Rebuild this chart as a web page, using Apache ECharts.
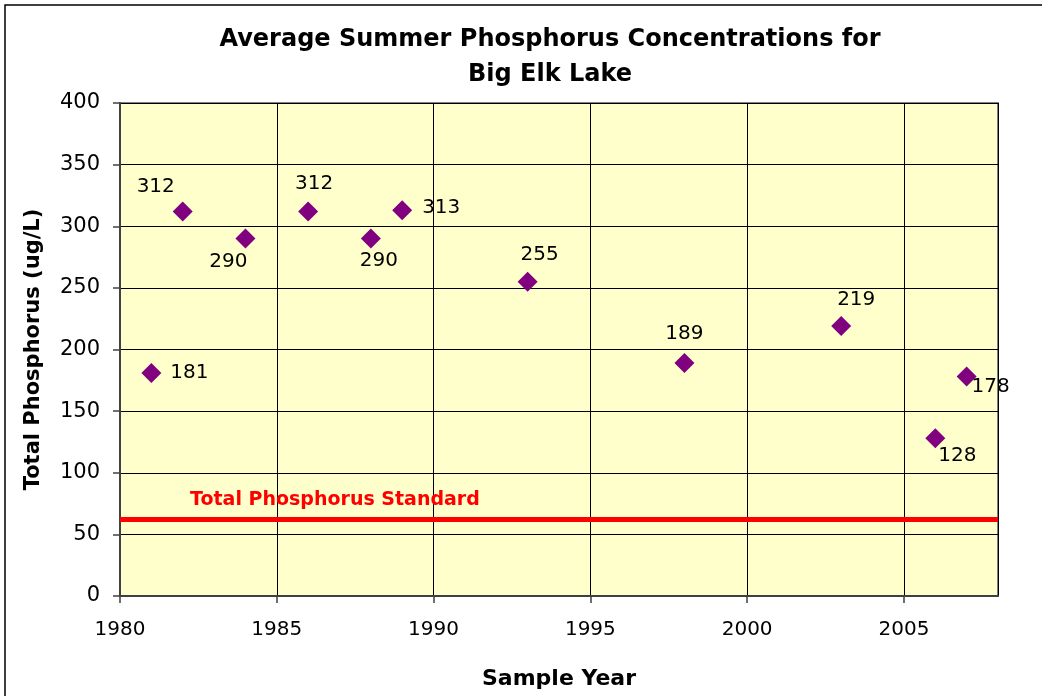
<!DOCTYPE html>
<html>
  <head>
    <meta http-equiv="Content-Type" content="text/html; charset=UTF-8">
    <title>Big Elk Lake</title>
    <style type="text/css">
      * {margin: 0; padding: 0;}
      body {background: #fff;}
    </style>
  </head>
  <body>
    <div id="chart" style="width:1042px;height:696px"></div>

    <script src="https://cdn.jsdelivr.net/npm/echarts@6/dist/echarts.min.js" charset="utf-8"></script>
    <script type="text/javascript">
      var years = [1981, 1982, 1984, 1986, 1988, 1989, 1993, 1998, 2003, 2006, 2007];
      var phosphorus = [181, 312, 290, 312, 290, 313, 255, 189, 219, 128, 178];
      var standard = 62;
      var standardName = 'Total Phosphorus Standard';
      // label offsets (px) from each diamond
      var labelOffsets = [[38, 0], [-27, -25], [-17, 23], [6, -28], [8, 22], [39, -2],
                          [12, -27], [0, -29], [15, -26], [22, 18], [24, 10]];

      var points = [];
      for (var i = 0; i < years.length; i++) {
        points.push({
          value: [years[i], phosphorus[i]],
          label: {offset: labelOffsets[i]}
        });
      }

      var font = '"DejaVu Sans", sans-serif';
      var chart = echarts.init(document.getElementById('chart'));
      var option = {
        animation: false,
        backgroundColor: '#fff',
        textStyle: {fontFamily: font},
        title: {
          text: 'Average Summer Phosphorus Concentrations for\nBig Elk Lake',
          left: 545,
          textAlign: 'center',
          top: 17,
          textStyle: {fontSize: 24, fontWeight: 'bold', color: '#000', lineHeight: 35, fontFamily: font}
        },
        graphic: [{
          type: 'rect',
          shape: {x: 5, y: 5, width: 1100, height: 800},
          style: {fill: 'none', stroke: '#000', lineWidth: 1.5},
          silent: true
        }],
        grid: {
          left: 120, right: 44, top: 103, bottom: 100,
          show: true,
          backgroundColor: '#FFFFCC',
          borderColor: '#808080',
          borderWidth: 2
        },
        xAxis: {
          type: 'value',
          min: 1980, max: 2008, interval: 5,
          name: 'Sample Year',
          nameLocation: 'middle',
          nameGap: 72,
          nameTextStyle: {fontSize: 22, fontWeight: 'bold', color: '#000', fontFamily: font},
          axisLine: {show: true, onZero: false, lineStyle: {color: '#404040', width: 2}},
          axisTick: {show: true, inside: false, length: 7, lineStyle: {color: '#404040', width: 1.5}},
          axisLabel: {fontSize: 20, color: '#000', margin: 24, showMaxLabel: false,
                      fontFamily: font, formatter: function (v) { return String(v); }},
          splitLine: {show: true, lineStyle: {color: '#000', width: 1}}
        },
        yAxis: {
          type: 'value',
          min: 0, max: 400, interval: 50,
          name: 'Total Phosphorus (ug/L)',
          nameLocation: 'middle',
          nameGap: 76,
          nameTextStyle: {fontSize: 21, fontWeight: 'bold', color: '#000', fontFamily: font},
          axisLine: {show: true, lineStyle: {color: '#404040', width: 2}},
          axisTick: {show: true, inside: false, length: 7, lineStyle: {color: '#404040', width: 1.5}},
          axisLabel: {fontSize: 21, color: '#000', margin: 20, fontFamily: font},
          splitLine: {show: true, lineStyle: {color: '#000', width: 1}}
        },
        series: [{
          type: 'scatter',
          symbol: 'diamond',
          symbolSize: [20, 20],
          itemStyle: {color: '#800080', opacity: 1},
          label: {
            show: true,
            position: 'inside',
            fontSize: 20,
            color: '#000',
            fontFamily: font,
            textBorderWidth: 0,
            formatter: function (p) { return p.value[1]; }
          },
          data: points,
          markLine: {
            silent: true,
            symbol: 'none',
            lineStyle: {color: '#FF0000', width: 5, type: 'solid', opacity: 1},
            label: {
              show: true,
              position: 'insideStartTop',
              formatter: standardName,
              color: '#FF0000',
              fontSize: 19,
              fontWeight: 'bold',
              fontFamily: font,
              distance: [70, 10]
            },
            data: [{yAxis: standard}]
          }
        }]
      };
      chart.setOption(option);
    </script>
  </body>
</html>
